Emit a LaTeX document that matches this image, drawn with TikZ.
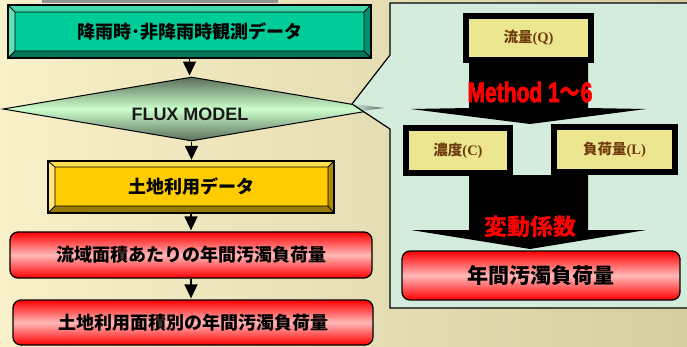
\documentclass[tikz,border=0pt]{standalone}
\usepackage{fontspec}
\setmainfont{Liberation Sans}
\newfontfamily\jp{Noto Sans CJK JP}
\newfontfamily\tms{Liberation Serif}
\newfontfamily\heavy{Liberation Sans}[UprightFont={* Bold},UprightFeatures={FakeBold=3}]
\usetikzlibrary{shapes.geometric,arrows.meta}
\definecolor{bgL}{HTML}{F8F0C8}
\definecolor{bgR}{HTML}{D6CEA2}
\definecolor{gFace}{HTML}{00CC99}
\definecolor{gTop}{HTML}{40D9AC}
\definecolor{gLeft}{HTML}{60E0BA}
\definecolor{gRight}{HTML}{009070}
\definecolor{gBot}{HTML}{007858}
\definecolor{yFace}{HTML}{FFCC00}
\definecolor{yTop}{HTML}{FFE04D}
\definecolor{yLeft}{HTML}{FFE680}
\definecolor{yRight}{HTML}{B08C00}
\definecolor{yBot}{HTML}{997A00}
\definecolor{mint}{HTML}{D4ECDC}
\definecolor{khaki}{HTML}{ECE690}
\definecolor{brn}{HTML}{6E3C0C}
\definecolor{dmTop}{HTML}{5A6E5A}
\definecolor{dmMid}{HTML}{CCFFCC}
\definecolor{pinkM}{HTML}{FFB8B8}
\tikzset{
  arr/.style={line width=1.5pt,-{Triangle[width=13pt,length=14pt]},shorten >=1pt},
  jptxt/.style={font=\jp\bfseries\fontsize{18}{18}\selectfont},
  redbox/.style={rectangle,rounded corners=8pt,draw=black,line width=1.3pt,
    top color=red,bottom color=red,middle color=pinkM,inner sep=0pt,
    jptxt},
  kbox/.style={rectangle,draw=black,line width=6pt,fill=khaki,inner sep=0pt,
    minimum height=44pt,text=brn,font=\jp\bfseries\fontsize{14.5}{14.5}\selectfont},
  bevel/.style={rectangle,inner sep=0pt,jptxt}
}
\begin{document}
\begin{tikzpicture}[x=1pt,y=-1pt]
\useasboundingbox (0,0) rectangle (687,346);
\shade[left color=bgL,right color=bgR] (0,0) rectangle (687,346);
\fill[gray!85] (42,0) rectangle (278,2.5);
% green bevel box
\fill[gTop] (8,5) -- (371,5) -- (364,12) -- (15,12) -- cycle;
\fill[gLeft] (8,5) -- (15,12) -- (15,51) -- (8,58) -- cycle;
\fill[gRight] (371,5) -- (371,58) -- (364,51) -- (364,12) -- cycle;
\fill[gBot] (8,58) -- (371,58) -- (364,51) -- (15,51) -- cycle;
\fill[gFace] (15,12) rectangle (364,51);
\draw[line width=0.8pt] (15,12) rectangle (364,51) (8,5) -- (15,12) (371,5) -- (364,12) (8,58) -- (15,51) (371,58) -- (364,51);
\draw[line width=1.5pt] (8,5) rectangle (371,58);
\node[bevel,minimum width=363pt,minimum height=53pt] (obs) at (189.5,31.5) {降雨時･非降雨時観測データ};
% yellow bevel box
\fill[yTop] (48,161) -- (334,161) -- (328,167) -- (55,167) -- cycle;
\fill[yLeft] (48,161) -- (55,167) -- (55,206) -- (48,213) -- cycle;
\fill[yRight] (334,161) -- (334,213) -- (328,206) -- (328,167) -- cycle;
\fill[yBot] (48,213) -- (334,213) -- (328,206) -- (55,206) -- cycle;
\fill[yFace] (55,167) rectangle (328,206);
\draw[line width=0.8pt] (55,167) rectangle (328,206) (48,161) -- (55,167) (334,161) -- (328,167) (48,213) -- (55,206) (334,213) -- (328,206);
\draw[line width=1.5pt] (48,161) rectangle (334,213);
\node[bevel,minimum width=286pt,minimum height=52pt] (land) at (191,187) {土地利用データ};
% diamond
\node[diamond,draw=black,line width=1pt,inner sep=0pt,minimum width=377pt,minimum height=64pt,
  top color=dmTop,bottom color=dmTop,middle color=dmMid] (flux) at (191.5,109) {};
\node[font=\bfseries\fontsize{18}{18}\selectfont,text=black!90] (fluxtxt) at (190,114.5) {FLUX MODEL};
% red boxes left
\node[redbox,minimum width=362pt,minimum height=46pt] (r1) at (191,255) {流域面積あたりの年間汚濁負荷量};
\node[redbox,minimum width=360pt,minimum height=45pt] (r2) at (193,322.5) {土地利用面積別の年間汚濁負荷量};
% connectors left
\draw[arr] (obs.south) -- (obs.south |- flux.north);
\draw[arr] (flux.south) -- (flux.south |- land.north);
\draw[arr] (land.south) -- (land.south |- r1.north);
\draw[arr] (r1.south) -- (r1.south |- r2.north);
% callout panel
\fill[mint] (390,3) -- (700,3) -- (700,308) -- (390,308) -- (390,129) -- (352,104) -- (390,55) -- cycle;
\shade[left color=mint,right color=black!55!mint] (353,104) -- (384,108) -- (362,111) -- cycle;
\draw[line width=1.2pt] (700,3) -- (390,3) -- (390,55) -- (352,104) -- (390,129) -- (390,308) -- (700,308);
% black arrows
\fill[black] (469,60) -- (588,60) -- (588,108) -- (646,109) -- (530,124) -- (411,109) -- (469,108) -- cycle;
\fill[black] (469,175) -- (588,175) -- (588,230) -- (646,230) -- (530,249) -- (411,230) -- (469,230) -- cycle;
% khaki boxes
\node[kbox,minimum width=125pt] (q) at (528.5,38) {流量{\tms\bfseries (Q)}};
\node[kbox,minimum width=104pt,minimum height=45pt] (c) at (458,150.5) {濃度{\tms\bfseries (C)}};
\node[kbox,minimum width=121pt,minimum height=45pt] (l) at (614.5,149.5) {負荷量{\tms\bfseries (L)}};
% method label
\node[text=red,font=\heavy\fontsize{28}{28}\selectfont] (mth) at (530,92)
  {\scalebox{0.75}[1]{Method 1{\jp\bfseries ～}6}};
\node[text=red,font=\jp\bfseries\fontsize{23}{23}\selectfont] (hendo) at (530,227) {変動係数};
% red box right
\node[redbox,minimum width=278pt,minimum height=49pt,font=\jp\bfseries\fontsize{21}{21}\selectfont] (r3) at (541,275.5) {年間汚濁負荷量};
\end{tikzpicture}
\end{document}
